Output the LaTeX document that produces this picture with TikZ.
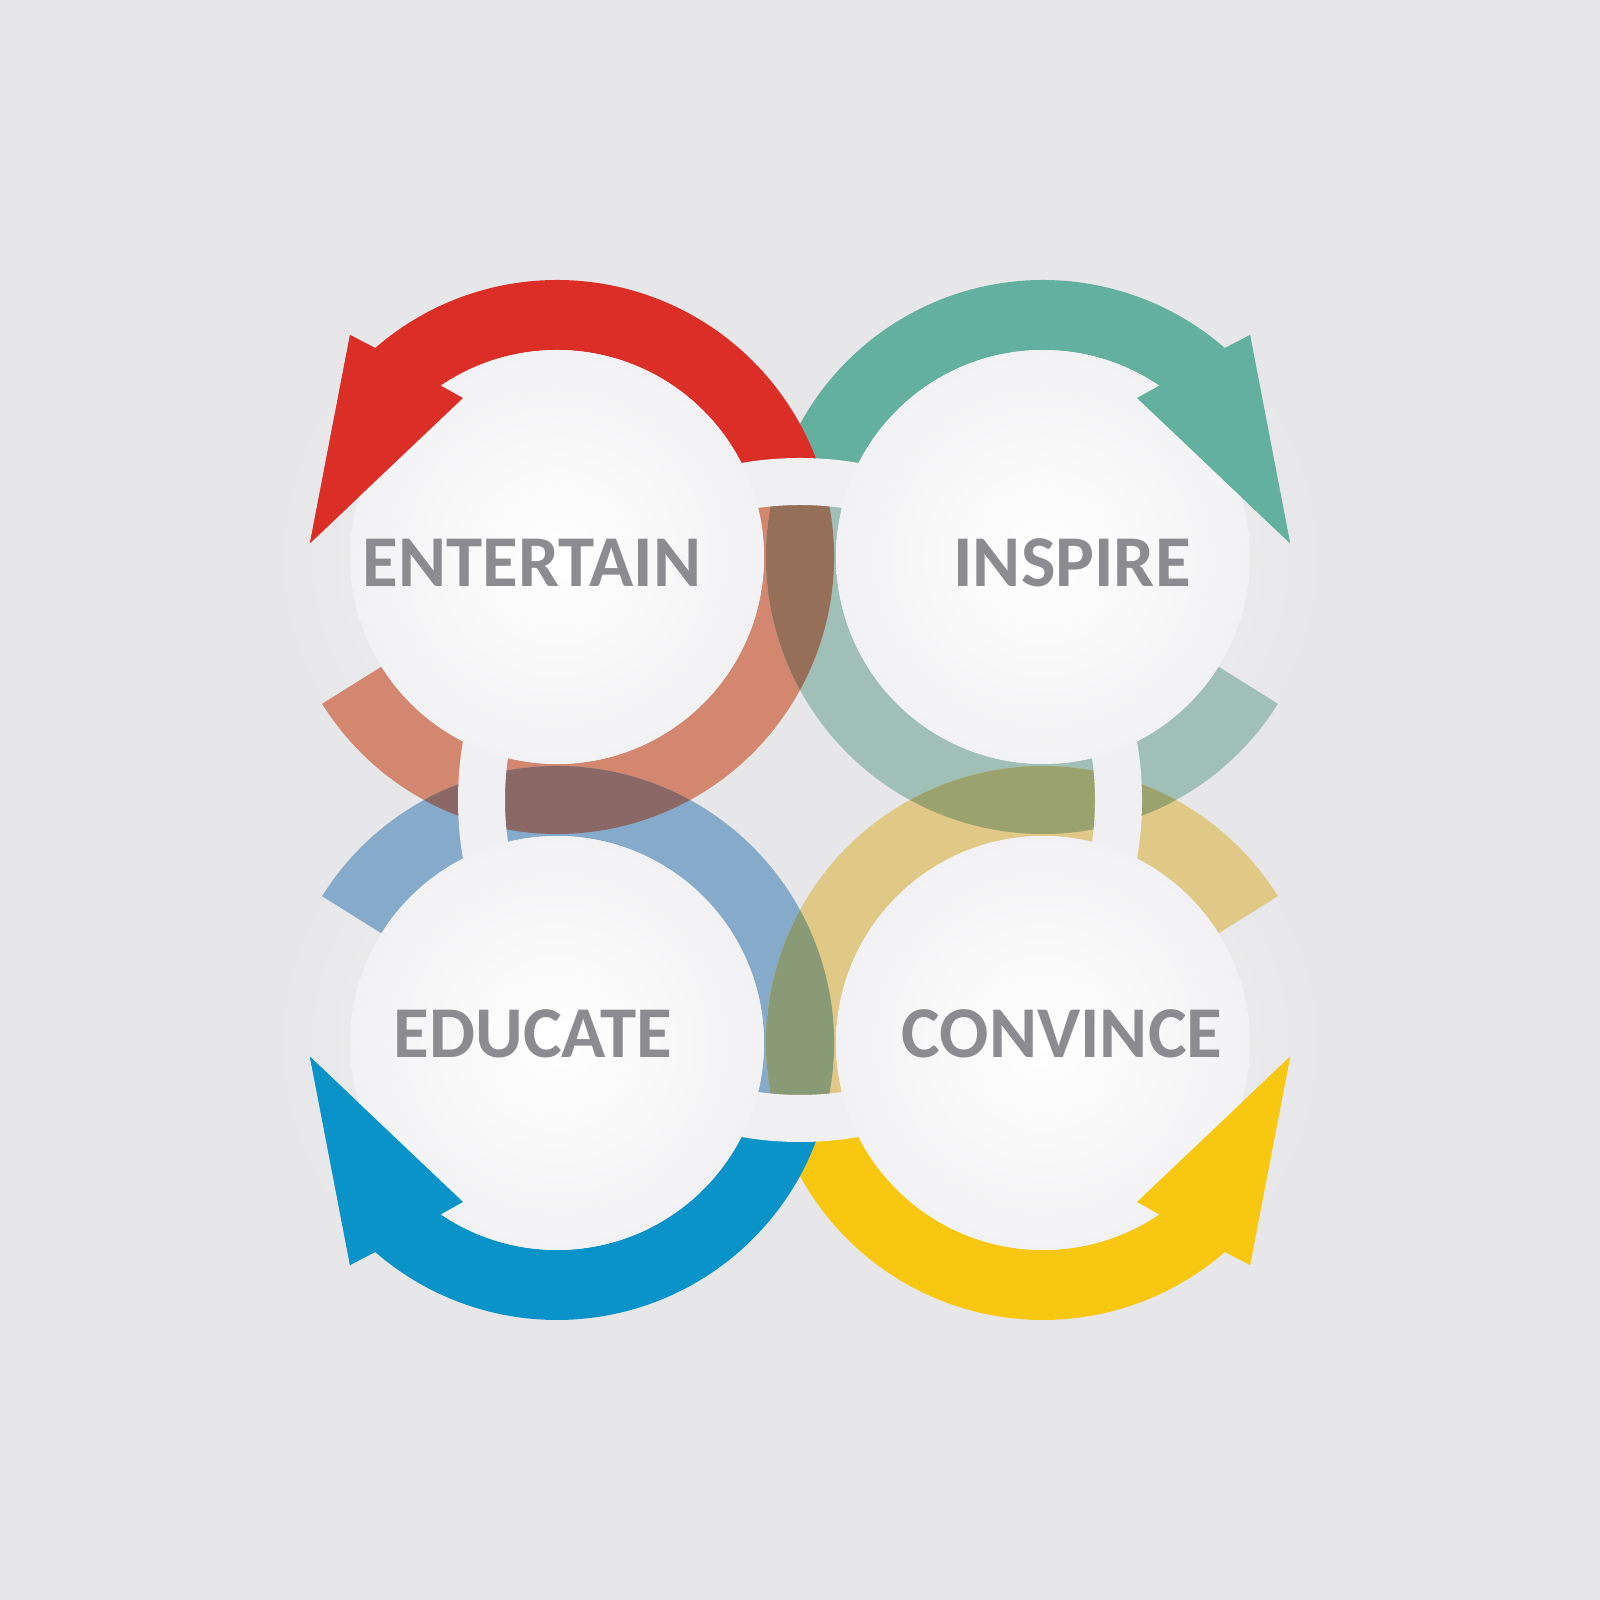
\documentclass[tikz,border=0pt]{standalone}
\usepackage{fontspec}
\usetikzlibrary{fadings}
\newfontfamily\labelfont{Carlito}
\definecolor{bg}{HTML}{E7E7E9}
\definecolor{redop}{HTML}{DA2E27}
\definecolor{tealop}{HTML}{63B09E}
\definecolor{blueop}{HTML}{0A93C9}
\definecolor{yelop}{HTML}{F8C711}
\definecolor{redlt}{HTML}{D4876F}
\definecolor{teallt}{HTML}{A0BFB6}
\definecolor{bluelt}{HTML}{86ABCA}
\definecolor{yellt}{HTML}{E0C986}
\definecolor{redteal}{HTML}{966F59}
\definecolor{redblue}{HTML}{8A6866}
\definecolor{tealyel}{HTML}{9AA26E}
\definecolor{blueyel}{HTML}{889A76}
\definecolor{band}{HTML}{F0F0F2}
\definecolor{discedge}{HTML}{F2F2F4}
\definecolor{txt}{HTML}{8C8C90}
\tikzfading[name=glowfade,inner color=transparent!0,outer color=transparent!100]
% one ring, drawn round the origin; the styles below move and mirror it
\newcommand{\ringlt}{(18:277) arc[start angle=18,end angle=-148,radius=277] -- ++(-148:-70) arc[start angle=-148,end angle=18,radius=207] -- cycle}
\newcommand{\ringop}{(18:277) arc[start angle=18,end angle=131,radius=277] -- (133:303.5) -- (176.8:247.4) -- (120.6:184.7) -- (123.7:207) arc[start angle=123.7,end angle=18,radius=207] -- cycle}
\newcommand{\ringtip}{(133:303.5) -- (176.8:247.4) -- (120.6:184.7) -- cycle}
\begin{document}
\begin{tikzpicture}[x=1pt,y=1pt,
    ringent/.style={shift={(557,1043)}},
    ringins/.style={shift={(1043,1043)},xscale=-1},
    ringedu/.style={shift={(557,557)},yscale=-1},
    ringcon/.style={shift={(1043,557)},scale=-1},
    disc/.style={circle,minimum size=414pt,inner sep=0pt,shade,inner color=white,outer color=discedge},
    word/.style={anchor=base,inner sep=0pt,text=txt,font=\labelfont\bfseries\fontsize{73}{80}\selectfont}]
  \useasboundingbox (0,0) rectangle (1600,1600);
  \fill[bg] (0,0) rectangle (1600,1600);
  % soft glow behind the circles
  \foreach \x/\y in {557/1043,1043/1043,557/557,1043/557}
    \fill[white,fill opacity=.45,path fading=glowfade] (\x,\y) circle (300);
  % pale back parts
  \fill[redlt,ringent] \ringlt;
  \fill[teallt,ringins] \ringlt;
  \fill[bluelt,ringedu] \ringlt;
  \fill[yellt,ringcon] \ringlt;
  % where two pale parts cross
  \begin{scope}
    \clip[ringent] \ringlt;
    \fill[redteal,ringins] \ringlt;
    \fill[redblue,ringedu] \ringlt;
  \end{scope}
  \begin{scope}
    \clip[ringcon] \ringlt;
    \fill[tealyel,ringins] \ringlt;
    \fill[blueyel,ringedu] \ringlt;
  \end{scope}
  % front parts with the arrows
  \fill[tealop,ringins] \ringop;
  \fill[yelop,ringcon] \ringop;
  \fill[redop,ringent] \ringop;
  \fill[blueop,ringedu] \ringop;
  % light band round the middle
  \fill[band,even odd rule] (800,800) circle (342) (800,800) circle (295);
  \node[disc] (ent) at (557,1043) {};
  \node[disc] (ins) at (1043,1043) {};
  \node[disc] (edu) at (557,557) {};
  \node[disc] (con) at (1043,557) {};
  % arrow heads again, over the discs
  \fill[redop,ringent] \ringtip;
  \fill[tealop,ringins] \ringtip;
  \fill[blueop,ringedu] \ringtip;
  \fill[yelop,ringcon] \ringtip;
  \node[word] (entlbl) at (532,1013) {ENTERTAIN};
  \node[word] (inslbl) at (1072,1013) {INSPIRE};
  \node[word] (edulbl) at (533,542) {EDUCATE};
  \node[word] (conlbl) at (1062,542) {CONVINCE};
\end{tikzpicture}
\end{document}
